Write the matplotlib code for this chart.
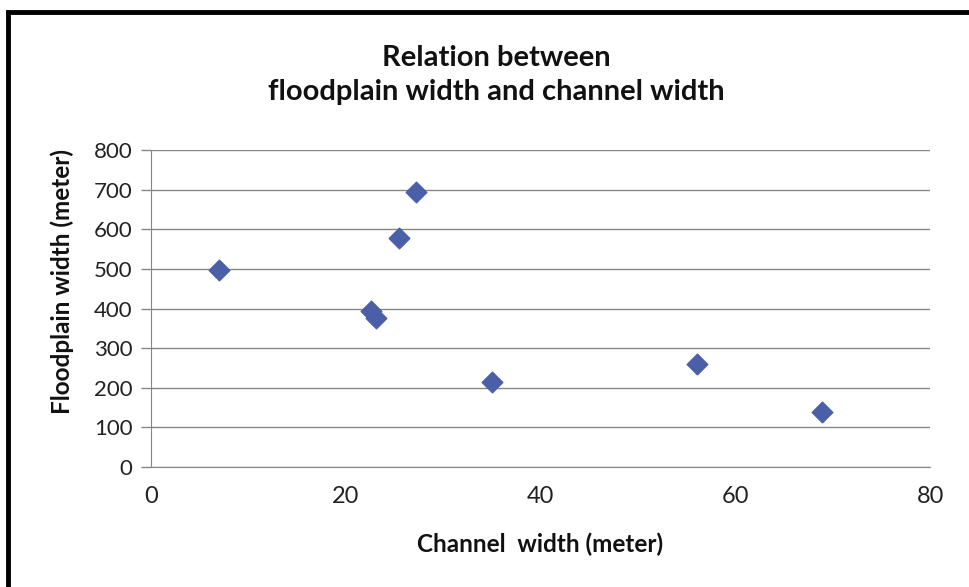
import matplotlib.pyplot as plt
from matplotlib.patches import Rectangle

# channel width vs floodplain width (meter)
channel_width = [7.0, 27.2, 25.5, 22.6, 23.1, 35.0, 56.1, 68.9]
floodplain_width = [496, 694, 577, 395, 376, 214, 260, 140]

x_ticks = [0, 20, 40, 60, 80]
y_ticks = [0, 100, 200, 300, 400, 500, 600, 700, 800]

title = "Relation between\nfloodplain width and channel width"
x_label = "Channel  width (meter)"
y_label = "Floodplain width (meter)"

plt.rcParams['font.family'] = ['Lato', 'DejaVu Sans']

fig = plt.figure(figsize=(9.69, 5.87), dpi=100)
ax = fig.add_axes([0.1555, 0.2044, 0.8045, 0.540])

ax.scatter(channel_width, floodplain_width, marker='D', s=110,
           color='#4A5FA8', edgecolors='#4A5FA8', zorder=3)

ax.set_xlim(0, 80)
ax.set_ylim(0, 800)
ax.set_xticks(x_ticks)
ax.set_yticks(y_ticks)
ax.tick_params(axis='x', length=0, labelsize=17, pad=14, labelcolor='#222222')
ax.tick_params(axis='y', length=7, width=1, color='#868686', labelsize=16,
               pad=6, labelcolor='#222222')
ax.grid(axis='y', color='#868686', linewidth=1)
ax.set_axisbelow(True)
for side in ['top', 'right']:
  ax.spines[side].set_visible(False)
ax.spines['left'].set_color('#868686')
ax.spines['bottom'].set_color('#868686')

fig.text(0.512, 0.872, title, ha='center', va='center', fontsize=21,
         fontweight='bold', color='#111111', linespacing=1.35)
fig.text(0.557, 0.072, x_label, ha='center', va='center', fontsize=17.5,
         fontweight='bold', color='#111111')
fig.text(0.064, 0.52, y_label, ha='center', va='center', fontsize=17.5,
         fontweight='bold', color='#111111', rotation=90)

# outer black frame of the original screenshot
fig.patches.append(Rectangle((7.5 / 969, -0.05), 1.2, 1.05 - 11.5 / 587,
                             transform=fig.transFigure, fill=False,
                             edgecolor='black', linewidth=3.5))

fig.savefig('out.png', dpi=100, facecolor='white')
